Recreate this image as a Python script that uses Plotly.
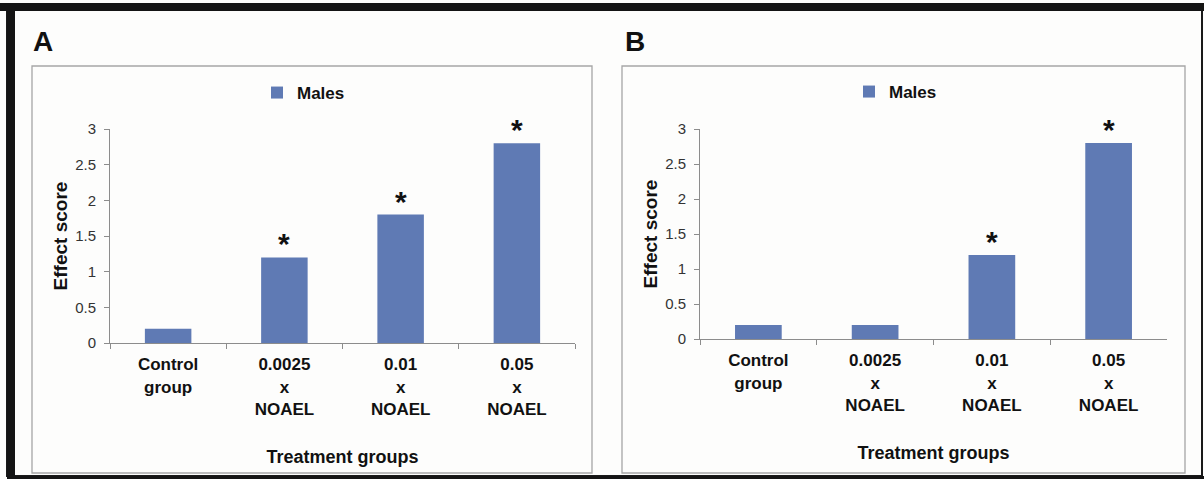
import plotly.graph_objects as go

categories = ["Control<br>group", "0.0025<br>x<br>NOAEL", "0.01<br>x<br>NOAEL", "0.05<br>x<br>NOAEL"]
males_a = [0.2, 1.2, 1.8, 2.8]
males_b = [0.2, 0.2, 1.2, 2.8]
signif_a = [False, True, True, True]
signif_b = [False, False, True, True]
y_ticks = [0, 0.5, 1, 1.5, 2, 2.5, 3]
y_ticktext = ["0", "0.5", "1", "1.5", "2", "2.5", "3"]

W, H = 1204, 479
FONT = "Liberation Sans, Arial, sans-serif"
BAR = "#5f7ab4"
AXIS = "#8c8c8c"


def px(x):
    return x / W


def py(y):
    return (H - y) / H


fig = go.Figure()
fig.add_trace(go.Bar(x=categories, y=males_a, name="Males", marker=dict(color=BAR, line=dict(width=0)),
                     width=0.4, xaxis="x", yaxis="y", legend="legend"))
fig.add_trace(go.Bar(x=categories, y=males_b, name="Males", marker=dict(color=BAR, line=dict(width=0)),
                     width=0.4, xaxis="x2", yaxis="y2", legend="legend2"))

annotations = []
for xa, ya, vals, sig in (("x", "y", males_a, signif_a), ("x2", "y2", males_b, signif_b)):
    for c, v, s in zip(categories, vals, sig):
        if s:
            annotations.append(dict(x=c, y=v, xref=xa, yref=ya, text="<b>*</b>", showarrow=False,
                                    yanchor="bottom", yshift=-5,
                                    font=dict(family=FONT, size=30, color="#111111")))

annotations += [
    dict(x=px(31), y=py(42), xref="paper", yref="paper", text="<b>A</b>", showarrow=False,
         xanchor="left", yanchor="middle", font=dict(family=FONT, size=28, color="#111111")),
    dict(x=px(623), y=py(42), xref="paper", yref="paper", text="<b>B</b>", showarrow=False,
         xanchor="left", yanchor="middle", font=dict(family=FONT, size=28, color="#111111")),
]

shapes = [
    # outer dark frame
    dict(type="rect", xref="paper", yref="paper", x0=px(7), x1=px(1202), y0=py(476), y1=py(7),
         line=dict(color="#1a1a1a", width=2), fillcolor="rgba(0,0,0,0)", layer="below"),
    dict(type="rect", xref="paper", yref="paper", x0=px(0), x1=px(1204), y0=py(11), y1=py(3),
         line=dict(width=0), fillcolor="#141414", layer="below"),
    dict(type="rect", xref="paper", yref="paper", x0=px(7), x1=px(15), y0=py(479), y1=py(3),
         line=dict(width=0), fillcolor="#141414", layer="below"),
    dict(type="rect", xref="paper", yref="paper", x0=px(7), x1=px(1204), y0=py(479), y1=py(476),
         line=dict(width=0), fillcolor="#141414", layer="below"),
    # panel boxes
    dict(type="rect", xref="paper", yref="paper", x0=px(32), x1=px(592), y0=py(473), y1=py(66),
         line=dict(color="#a6a6a6", width=1.3), fillcolor="rgba(0,0,0,0)", layer="below"),
    dict(type="rect", xref="paper", yref="paper", x0=px(622), x1=px(1185), y0=py(473), y1=py(66),
         line=dict(color="#a6a6a6", width=1.3), fillcolor="rgba(0,0,0,0)", layer="below"),
]

yaxis_common = dict(range=[0, 3], tickvals=y_ticks, ticktext=y_ticktext, showgrid=False, zeroline=False,
                    showline=True, linecolor=AXIS, linewidth=1, ticks="outside", ticklen=5, tickcolor=AXIS,
                    ticklabelstandoff=5, automargin=False,
                    tickfont=dict(family=FONT, size=15, color="#333333"),
                    title=dict(text="Effect score", standoff=2,
                               font=dict(family=FONT, size=19, color="#111111", weight="bold")))
xaxis_common = dict(type="category", showgrid=False, zeroline=False, showline=True, linecolor=AXIS,
                    linewidth=1, ticks="outside", ticklen=5, tickcolor=AXIS, tickson="boundaries",
                    ticklabelstandoff=6, automargin=False,
                    tickfont=dict(family=FONT, size=17, color="#111111", weight="bold"),
                    title=dict(text="Treatment groups", standoff=32,
                               font=dict(family=FONT, size=18, color="#111111", weight="bold")))

legend_common = dict(orientation="h", xanchor="left", yanchor="middle", bgcolor="rgba(0,0,0,0)",
                     font=dict(family=FONT, size=17, color="#111111", weight="bold"),
                     itemwidth=30, traceorder="normal")

fig.update_layout(
    width=W, height=H, autosize=False,
    margin=dict(l=0, r=0, t=0, b=0, pad=0, autoexpand=False),
    paper_bgcolor="#fdfdfc", plot_bgcolor="rgba(0,0,0,0)",
    font=dict(family=FONT),
    bargap=0.6,
    xaxis=dict(domain=[px(110), px(575)], anchor="y", **xaxis_common),
    yaxis=dict(domain=[py(343), py(129)], anchor="x", **yaxis_common),
    xaxis2=dict(domain=[px(700), px(1167)], anchor="y2", **xaxis_common),
    yaxis2=dict(domain=[py(339), py(129)], anchor="x2", **yaxis_common),
    legend=dict(x=px(257), y=py(93), **legend_common),
    legend2=dict(x=px(849), y=py(92), **legend_common),
    annotations=annotations,
    shapes=shapes,
    showlegend=True,
)

fig.write_html(
    "out.html",
    config={"displayModeBar": False},
    post_script="document.body.style.margin='0';document.body.style.overflow='hidden';",
)
